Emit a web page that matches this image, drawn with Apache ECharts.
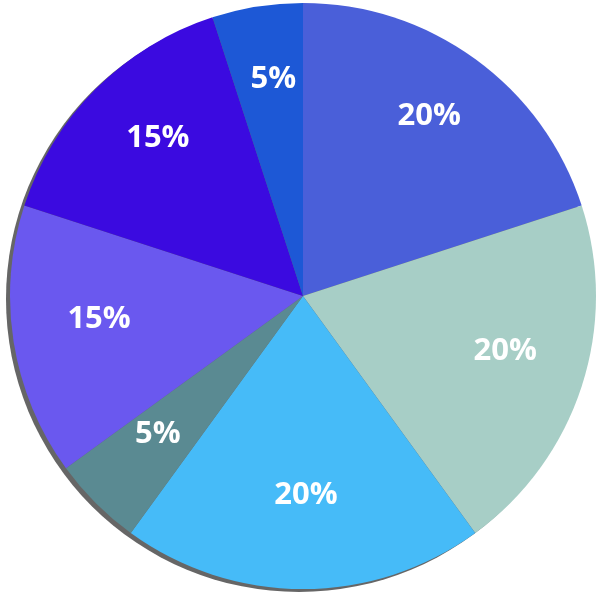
<!DOCTYPE html>
<html>
<head>
<meta charset="utf-8">
<script src="https://cdn.jsdelivr.net/npm/echarts@6/dist/echarts.min.js"></script>
<style>
html,body{margin:0;padding:0;background:#ffffff;}
#chart{width:600px;height:593px;}
</style>
</head>
<body>
<div id="chart"></div>
<script>
const categories = ['A', 'B', 'C', 'D', 'E', 'F', 'G'];
const values = [20, 20, 20, 5, 15, 15, 5];
const labels = ['20%', '20%', '20%', '5%', '15%', '15%', '5%'];
const colors = ['#4a5fd9', '#a7cec6', '#46bbf8', '#5a8a92', '#6a58ef', '#3b0ae0', '#1d58d6'];

const chart = echarts.init(document.getElementById('chart'), null, {renderer: 'canvas'});
const data = categories.map((c, i) => ({name: c, value: values[i], itemStyle: {color: colors[i]}}));
const labelData = categories.map((c, i) => ({name: c, value: values[i]}));

chart.setOption({
  backgroundColor: '#ffffff',
  animation: false,
  series: [
    {
      type: 'pie',
      silent: true,
      center: [299, 299],
      radius: [0, 293],
      startAngle: 90,
      clockwise: true,
      label: {show: false},
      labelLine: {show: false},
      data: [{value: 1, itemStyle: {color: '#666666'}}]
    },
    {
      type: 'pie',
      center: [303, 296],
      radius: [0, 293],
      startAngle: 90,
      clockwise: true,
      label: {show: false},
      labelLine: {show: false},
      itemStyle: {borderWidth: 0},
      data: data
    },
    {
      type: 'pie',
      silent: true,
      center: [303, 296],
      radius: [120, 293],
      startAngle: 90,
      clockwise: true,
      itemStyle: {color: 'rgba(0,0,0,0)'},
      labelLine: {show: false},
      label: {
        show: true,
        position: 'inside',
        offset: [3, -10],
        color: '#ffffff',
        fontSize: 31,
        fontWeight: 'bold',
        fontFamily: 'Open Sans',
        formatter: (p) => labels[p.dataIndex]
      },
      data: labelData
    }
  ]
});
</script>
</body>
</html>
